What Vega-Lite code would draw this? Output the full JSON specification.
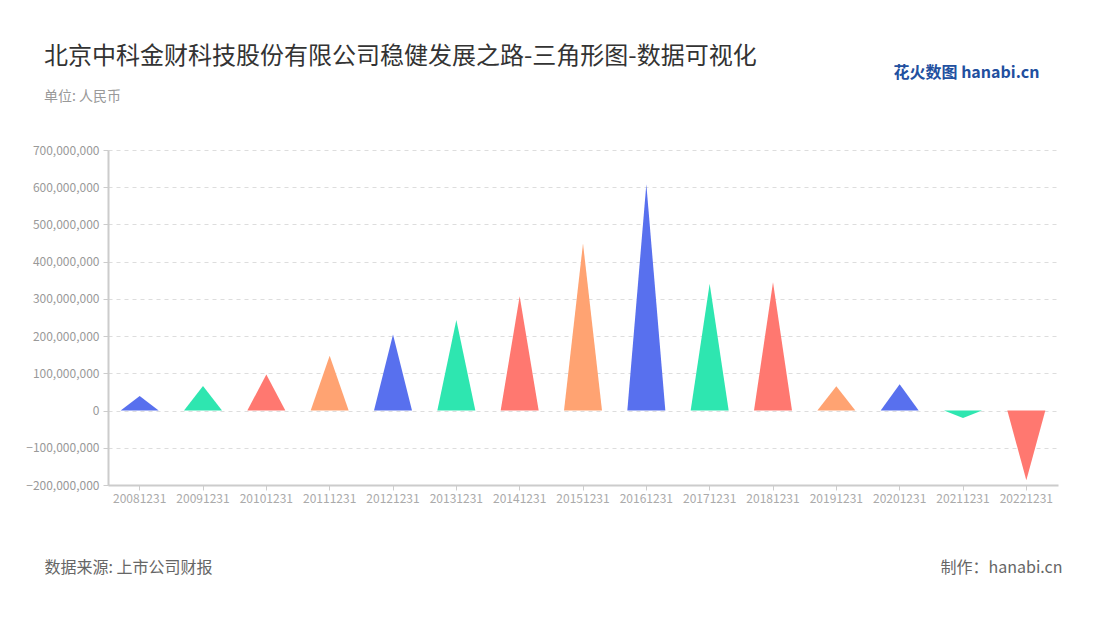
{
  "$schema": "https://vega.github.io/schema/vega-lite/v6.json",
  "width": 950,
  "height": 335,
  "autosize": {"type": "none"},
  "padding": {"left": 108, "top": 150, "right": 42, "bottom": 135},
  "background": "white",
  "config": {"font": "Noto Sans CJK SC", "view": {"stroke": null}},
  "title": {
    "text": "北京中科金财科技股份有限公司稳健发展之路-三角形图-数据可视化",
    "subtitle": "单位: 人民币",
    "anchor": "start",
    "frame": "group",
    "dx": -64,
    "fontSize": 24,
    "fontWeight": "normal",
    "color": "#333333",
    "subtitleFontSize": 14,
    "subtitleColor": "#999999",
    "subtitlePadding": 21,
    "offset": -40
  },
  "data": {
    "values": [
      {"date": "20081231", "peak": 39000000},
      {"date": "20091231", "peak": 66000000},
      {"date": "20101231", "peak": 97000000},
      {"date": "20111231", "peak": 147000000},
      {"date": "20121231", "peak": 204000000},
      {"date": "20131231", "peak": 243000000},
      {"date": "20141231", "peak": 307000000},
      {"date": "20151231", "peak": 449000000},
      {"date": "20161231", "peak": 608000000},
      {"date": "20171231", "peak": 341000000},
      {"date": "20181231", "peak": 345000000},
      {"date": "20191231", "peak": 65000000},
      {"date": "20201231", "peak": 71000000},
      {"date": "20211231", "peak": -20000000},
      {"date": "20221231", "peak": -187000000}
    ]
  },
  "transform": [
    {"fold": ["peak"], "as": ["pt", "amount"]},
    {"impute": "amount", "key": "pt", "keyvals": ["left", "peak", "right"], "groupby": ["date"], "value": 0}
  ],
  "layer": [
    {
      "mark": {"type": "line", "strokeWidth": 0, "interpolate": "linear"},
      "encoding": {
        "x": {
          "field": "date",
          "type": "nominal",
          "scale": {"type": "band", "paddingInner": 0, "paddingOuter": 0},
          "axis": {
            "orient": "bottom",
            "labelAngle": 0,
            "labelFontSize": 12,
            "labelColor": "#aaaaaa",
            "labelPadding": 3,
            "tickColor": "#cccccc",
            "tickSize": 5,
            "domainColor": "#cccccc",
            "domainWidth": 2,
            "grid": false,
            "title": "数据来源: 上市公司财报",
            "titleAlign": "left",
            "titleBaseline": "middle",
            "titleX": -64,
            "titleY": 82,
            "titleFontSize": 16,
            "titleFontWeight": "normal",
            "titleColor": "#666666"
          }
        },
        "xOffset": {
          "field": "pt",
          "type": "nominal",
          "scale": {"type": "point", "domain": ["left", "peak", "right"], "padding": 0.6667}
        },
        "y": {
          "field": "amount",
          "type": "quantitative",
          "scale": {"domain": [-200000000, 700000000], "nice": false},
          "axis": {
            "values": [-200000000, -100000000, 0, 100000000, 200000000, 300000000, 400000000, 500000000, 600000000, 700000000],
            "format": ",d",
            "labelFontSize": 12,
            "labelColor": "#999999",
            "labelPadding": 4,
            "tickColor": "#cccccc",
            "tickSize": 5,
            "domainColor": "#cccccc",
            "domainWidth": 2,
            "grid": true,
            "gridColor": "#dddddd",
            "gridDash": [4, 4],
            "title": null
          }
        },
        "fill": {
          "field": "date",
          "type": "nominal",
          "scale": {"range": ["#5870ee", "#2ee6b0", "#ff7870", "#ffa372"]},
          "legend": null
        },
        "detail": {"field": "date", "type": "nominal"},
        "order": {"field": "pt", "type": "ordinal"}
      }
    },
    {
      "mark": {"type": "point", "opacity": 0},
      "encoding": {
        "x": {
          "field": "date",
          "type": "nominal",
          "axis": {
            "orient": "top",
            "labels": false,
            "ticks": false,
            "domain": false,
            "grid": false,
            "title": "花火数图 hanabi.cn",
            "titleAlign": "left",
            "titleBaseline": "middle",
            "titleX": 785,
            "titleY": -78,
            "titleFontSize": 16,
            "titleFontWeight": "bold",
            "titleColor": "#22509f"
          }
        },
        "y": {
          "field": "amount",
          "type": "quantitative",
          "axis": {
            "orient": "right",
            "labels": false,
            "ticks": false,
            "domain": false,
            "grid": false,
            "title": "制作：hanabi.cn",
            "titleAngle": 0,
            "titleAlign": "right",
            "titleBaseline": "middle",
            "titleX": 4,
            "titleY": 417,
            "titleFontSize": 16,
            "titleFontWeight": "normal",
            "titleColor": "#666666"
          }
        }
      }
    }
  ],
  "resolve": {"axis": {"x": "independent", "y": "independent"}}
}
